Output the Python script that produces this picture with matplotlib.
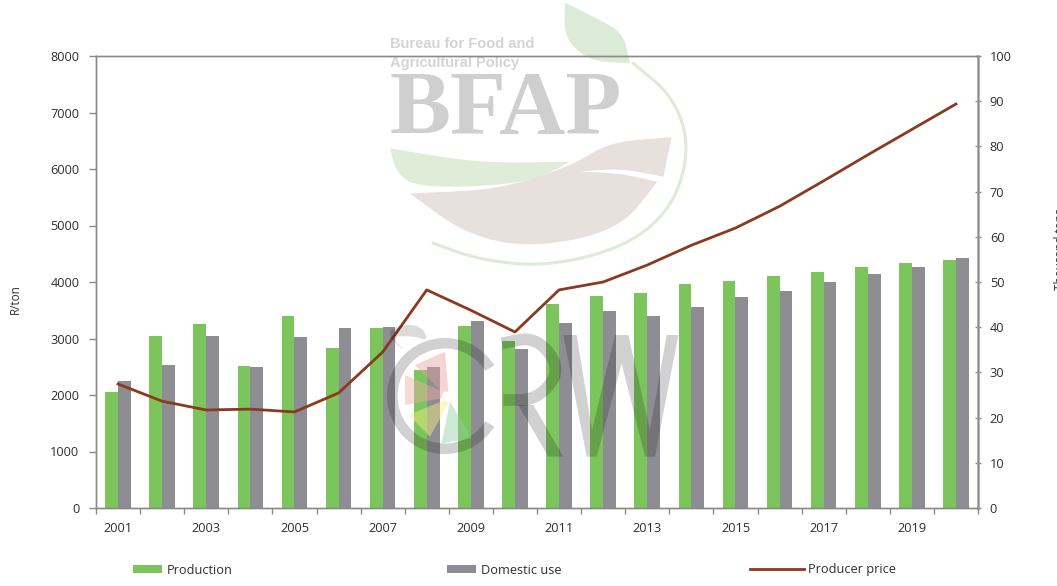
import matplotlib
matplotlib.use("Agg")
import matplotlib.pyplot as plt
import numpy as np
from matplotlib.patches import Rectangle, Polygon, Wedge
from matplotlib.lines import Line2D
from matplotlib.transforms import Affine2D

years = list(range(2001, 2021))
production = [25.75, 38.0, 40.75, 31.4, 42.4, 35.5, 39.75, 30.6, 40.25, 36.9,
              45.1, 47.0, 47.6, 49.5, 50.25, 51.25, 52.25, 53.25, 54.1, 54.9]
domestic_use = [28.1, 31.6, 38.0, 31.25, 37.9, 39.9, 40.0, 31.25, 41.4, 35.1,
                41.0, 43.6, 42.4, 44.4, 46.6, 48.0, 49.9, 51.75, 53.4, 55.4]
producer_price = [2195, 1890, 1735, 1750, 1700, 2035, 2760, 3860, 3500, 3115,
                  3860, 4000, 4300, 4650, 4955, 5340, 5790, 6250, 6700, 7150]
left_ticks = list(range(0, 8001, 1000))
right_ticks = list(range(0, 101, 10))
series_names = ["Production", "Domestic use", "Producer price"]

W, H = 1057, 586
GREEN, GREY, BROWN = "#7CC55C", "#8D8D93", "#8A3A1F"
AXC, TXT = "#8A8A8A", "#2F2F2F"
plt.rcParams["font.family"] = ["Open Sans", "DejaVu Sans"]

fig = plt.figure(figsize=(W / 100, H / 100), dpi=100, facecolor="white")
L, R, T, B = 96, 978, 56, 508
ax = fig.add_axes([L / W, 1 - B / H, (R - L) / W, (B - T) / H])
ax2 = ax.twinx()
ax.set_zorder(2)
ax.patch.set_visible(False)

x = np.arange(len(years))
bw = 0.29
ax2.bar(x - bw / 2, production, bw, color=GREEN, zorder=2)
ax2.bar(x + bw / 2, domestic_use, bw, color=GREY, zorder=2)
ax.plot(x, producer_price, color=BROWN, lw=2.0, solid_joinstyle="round", zorder=3)

ax.set_xlim(-0.5, len(years) - 0.5)
ax.set_ylim(0, 8000)
ax2.set_ylim(0, 100)
ax.set_yticks(left_ticks)
ax2.set_yticks(right_ticks)
ax.set_xticks(np.arange(-0.5, len(years)), labels=[])
ax.set_xticks(x[::2], labels=[str(y) for y in years[::2]], minor=True)
ax.tick_params(axis="x", which="major", length=4, width=1, color=AXC)
ax.tick_params(axis="x", which="minor", length=0, pad=10, labelsize=9.2, labelcolor=TXT)
ax.tick_params(axis="y", length=5, width=1, color=AXC, labelsize=9.2, labelcolor=TXT, pad=7)
ax2.tick_params(axis="y", length=5, width=1, color=AXC, labelsize=9.2, labelcolor=TXT, pad=6, direction="inout")
for a in (ax, ax2):
    for s in a.spines.values():
        s.set_color(AXC)
        s.set_linewidth(1.0)
ax2.spines["right"].set_linewidth(1.8)
ax2.spines["right"].set_color("#ABABAB")

tf = fig.transFigure
fx = lambda px: px / W
fy = lambda py: 1 - py / H
P = lambda pts: [(fx(a), fy(b)) for a, b in pts]

fig.text(fx(15), fy(299), "R/ton", rotation=90, ha="center", va="center", fontsize=8.5, color=TXT)
fig.text(fx(1054), fy(290), "Thousand tons", rotation=90, ha="left", va="bottom", fontsize=8.5, color=TXT)

for sx, col in ((133, GREEN), (447, GREY)):
    fig.add_artist(Rectangle((fx(sx), fy(573)), 29 / W, 8 / H, transform=tf, fc=col, ec="none"))
fig.add_artist(Line2D([fx(750), fx(804)], [fy(569), fy(569)], transform=tf, color=BROWN, lw=2.0))
for tx, name in zip((167, 481, 808), series_names):
    fig.text(fx(tx), fy(570), name, ha="left", va="center", fontsize=9.2, color=TXT)


def chaikin(pts, closed=True, n=3, corners=()):
    """Round a decorative outline; indices in corners stay sharp."""
    pts = [tuple(p) for p in pts]
    keep = {pts[i] for i in corners}
    for _ in range(n):
        out = []
        m = len(pts)
        rng = range(m) if closed else range(m - 1)
        if not closed:
            out.append(pts[0])
        for i in rng:
            a, b = pts[i], pts[(i + 1) % m]
            if a in keep:
                out.append(a)
            else:
                out.append((0.75 * a[0] + 0.25 * b[0], 0.75 * a[1] + 0.25 * b[1]))
            if b not in keep:
                out.append((0.25 * a[0] + 0.75 * b[0], 0.25 * a[1] + 0.75 * b[1]))
        if not closed:
            out.append(pts[-1])
        pts = out
    return pts


def zA(pts):  # coordinates in the BFAP crop
    return [(380 + a / 3, b / 3) for a, b in pts]


def zB(pts):  # coordinates in the CRW crop
    return [(380 + a / 3, 320 + b / 3) for a, b in pts]


def blob(pts, col, z=-1, alpha=None):
    fig.add_artist(Polygon(P(pts), closed=True, transform=tf, fc=col, ec="none", zorder=z, alpha=alpha))


# BFAP watermark
blob(chaikin(zA([(555, 8), (660, 60), (730, 100), (750, 190), (640, 185), (570, 135), (552, 80)]), corners=(0, 3)), "#DCEBD8")
blob(chaikin(zA([(30, 445), (300, 490), (570, 485), (470, 540), (300, 560), (110, 560), (50, 520)]), corners=(0, 2)), "#DFECD8")
blob(chaikin(zA([(90, 580), (350, 570), (570, 500), (690, 425), (875, 412), (850, 530), (720, 505), (600, 515),
                 (720, 520), (832, 545), (720, 690), (450, 745), (250, 700)]), corners=(0, 4, 5, 7, 9)), "#E8E0DC")
arc = chaikin(zA([(760, 190), (880, 290), (930, 440), (880, 620), (740, 740), (500, 800), (300, 780), (160, 730)]), closed=False)
arc_xy = np.array(P(arc))
fig.add_artist(Line2D(arc_xy[:, 0], arc_xy[:, 1], transform=tf, color="#DDEBD8", lw=2.2, zorder=-1))
fig.text(fx(390), fy(44.5), "Bureau for Food and", family="Liberation Sans", weight="bold", fontsize=10.5,
         color="#D4D4D4", va="center", zorder=-1)
fig.text(fx(390), fy(63), "Agricultural Policy", family="Liberation Sans", weight="bold", fontsize=10.5,
         color="#D4D4D4", va="center", zorder=-1)
fig.text(fx(506), fy(112), "BFAP", family="Liberation Serif", weight="bold", fontsize=66, color="#CFCFCF",
         ha="center", va="center", zorder=-1)

# CRW watermark
ALPHA = 0.18
px_tf = Affine2D().scale(1 / W, 1 / H) + tf
fig.add_artist(Wedge((445, H - 396), 58, 32, 328, width=10.5, fc="black", alpha=ALPHA, ec="none", zorder=5, transform=px_tf))
blob(zB([(105, 135), (195, 95), (205, 215), (185, 215)]), "#E9A0A0", 5, 0.45)
blob(zB([(75, 165), (190, 215), (185, 235), (75, 255)]), "#EDB0A0", 5, 0.45)
blob(zB([(85, 285), (195, 240), (205, 250), (150, 350)]), "#F8F080", 5, 0.45)
blob(zB([(210, 245), (275, 355), (185, 370)]), "#90CCA0", 5, 0.45)
blob(zB([(550, 45), (590, 45), (636, 330), (705, 45), (745, 45), (810, 330), (860, 45), (895, 45), (825, 410),
         (795, 410), (725, 130), (650, 410), (620, 410)]), "black", 5, ALPHA)
r_pts = chaikin(zB([(365, 70), (470, 50), (545, 150), (470, 240), (370, 240)]), closed=False)
r_xy = np.array(P(r_pts))
fig.add_artist(Line2D(r_xy[:, 0], r_xy[:, 1], transform=tf, color="black", alpha=ALPHA, lw=8.5, zorder=5, solid_capstyle="butt"))
blob(zB([(415, 255), (460, 255), (550, 410), (505, 410)]), "black", 5, ALPHA)
blob(chaikin(zB([(15, 40), (70, 12), (125, 20), (145, 62), (100, 48), (35, 50), (80, 100)]), n=1), "black", 5, 0.14)

fig.savefig("out.png", dpi=100)
